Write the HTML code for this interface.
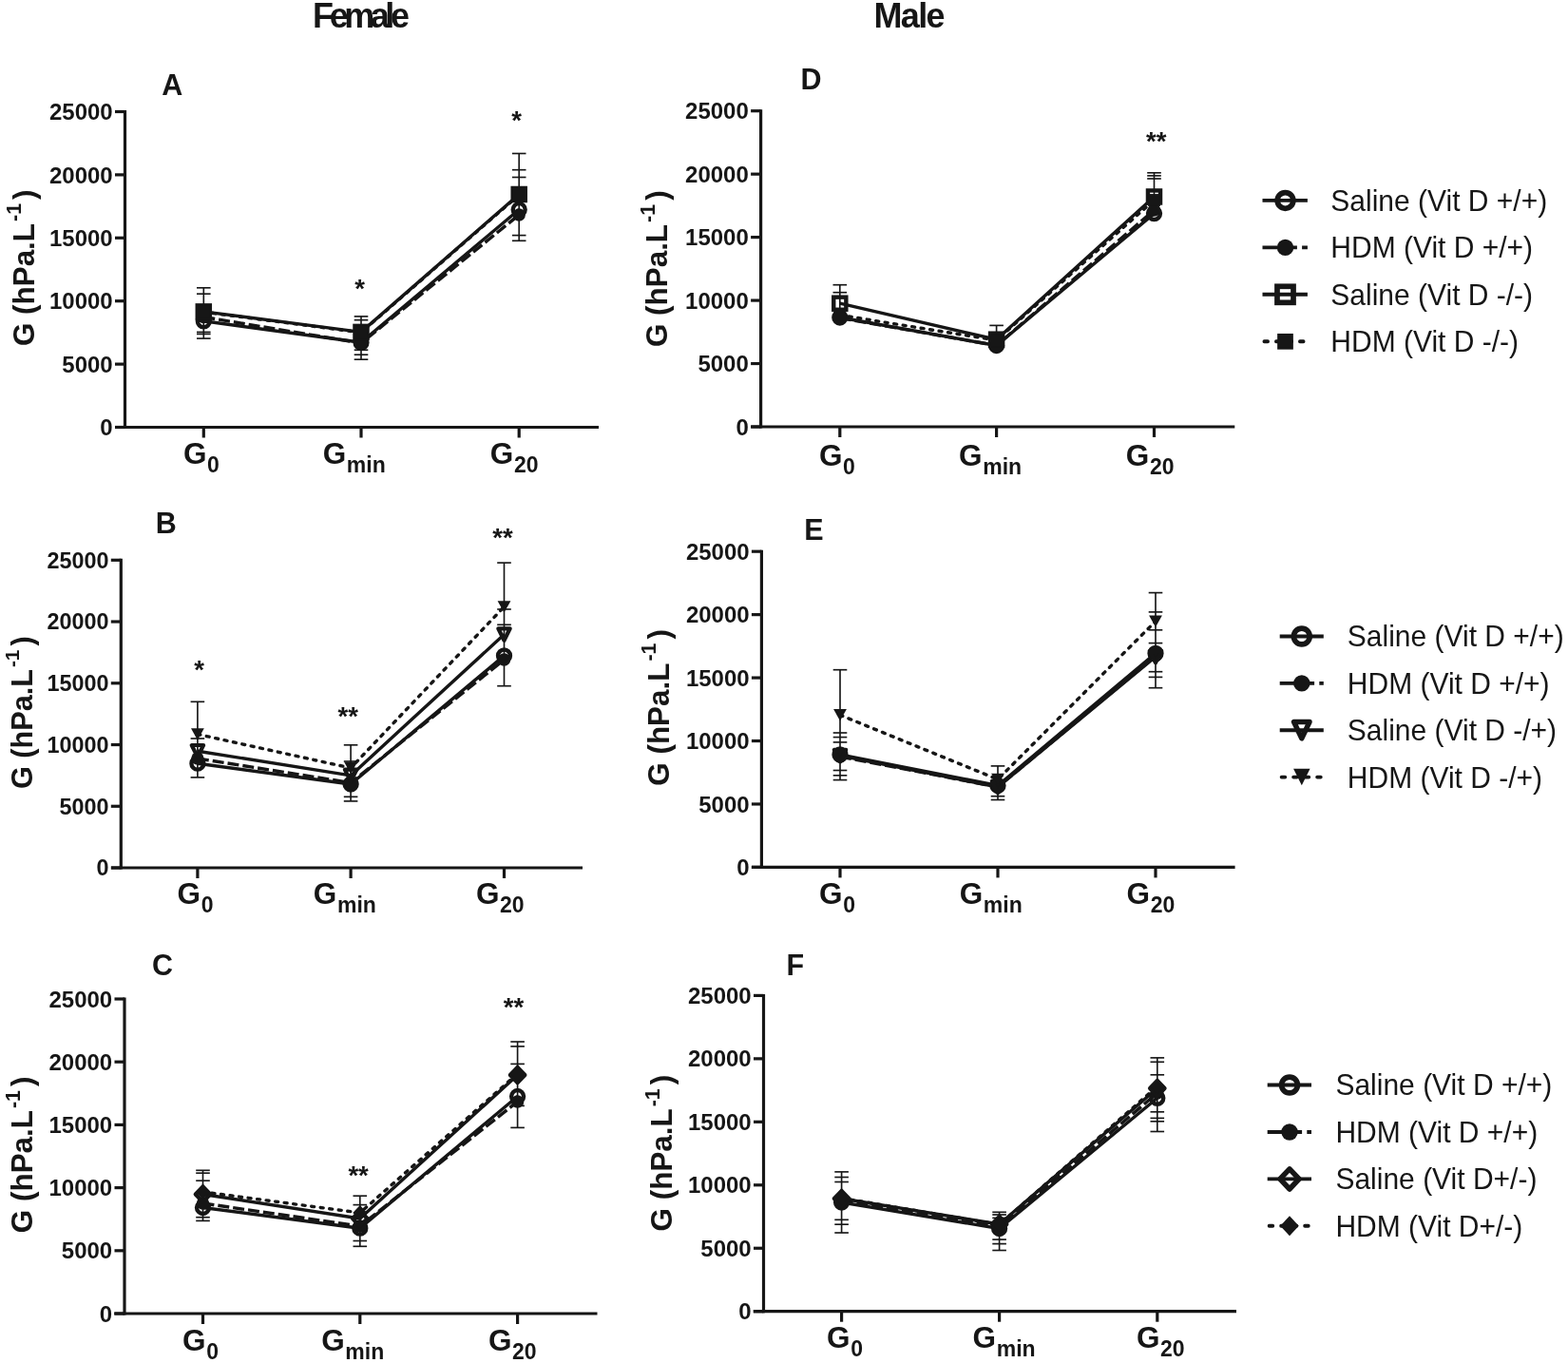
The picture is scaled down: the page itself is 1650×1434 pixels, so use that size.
<!DOCTYPE html>
<html><head><meta charset="utf-8"><title>Figure</title>
<style>html,body{margin:0;padding:0;background:#fff;}svg{display:block;}</style></head><body>
<svg width="1650" height="1434" viewBox="0 0 1650 1434">
<rect width="1650" height="1434" fill="#fff"/>
<text transform="translate(329.1 29.3) scale(1 1.036)" style="font-family:'Liberation Sans',Arial,sans-serif;font-weight:bold;font-size:36px;letter-spacing:-4.44px" fill="#161616">Female</text>
<text transform="translate(919.4 29.3) scale(1 1.036)" style="font-family:'Liberation Sans',Arial,sans-serif;font-weight:bold;font-size:36px;letter-spacing:-1.63px" fill="#161616">Male</text>
<path d="M131.5 116V451" stroke="#161616" stroke-width="3.2" fill="none"/>
<path d="M121 449.5H630" stroke="#161616" stroke-width="3.2" fill="none"/>
<path d="M121 449.5H131.5" stroke="#161616" stroke-width="3.2"/>
<text transform="translate(118.7 458.1) scale(1 1.035)" text-anchor="end" style="font-family:'Liberation Sans',Arial,sans-serif;font-weight:bold;font-size:24px" fill="#161616">0</text>
<path d="M121 383.1H131.5" stroke="#161616" stroke-width="3.2"/>
<text transform="translate(118.7 391.7) scale(1 1.035)" text-anchor="end" style="font-family:'Liberation Sans',Arial,sans-serif;font-weight:bold;font-size:24px" fill="#161616">5000</text>
<path d="M121 316.7H131.5" stroke="#161616" stroke-width="3.2"/>
<text transform="translate(118.7 325.3) scale(1 1.035)" text-anchor="end" style="font-family:'Liberation Sans',Arial,sans-serif;font-weight:bold;font-size:24px" fill="#161616">10000</text>
<path d="M121 250.3H131.5" stroke="#161616" stroke-width="3.2"/>
<text transform="translate(118.7 258.9) scale(1 1.035)" text-anchor="end" style="font-family:'Liberation Sans',Arial,sans-serif;font-weight:bold;font-size:24px" fill="#161616">15000</text>
<path d="M121 183.9H131.5" stroke="#161616" stroke-width="3.2"/>
<text transform="translate(118.7 192.5) scale(1 1.035)" text-anchor="end" style="font-family:'Liberation Sans',Arial,sans-serif;font-weight:bold;font-size:24px" fill="#161616">20000</text>
<path d="M121 117.5H131.5" stroke="#161616" stroke-width="3.2"/>
<text transform="translate(118.7 126.1) scale(1 1.035)" text-anchor="end" style="font-family:'Liberation Sans',Arial,sans-serif;font-weight:bold;font-size:24px" fill="#161616">25000</text>
<path d="M214.3 449.5V460.5" stroke="#161616" stroke-width="3.2"/>
<text x="192.91" y="488" style="font-family:'Liberation Sans',Arial,sans-serif;font-weight:bold;font-size:31.5px" fill="#161616">G</text>
<text x="218.04" y="497" style="font-family:'Liberation Sans',Arial,sans-serif;font-weight:bold;font-size:23px" fill="#161616">0</text>
<path d="M380 449.5V460.5" stroke="#161616" stroke-width="3.2"/>
<text x="339.71" y="488" style="font-family:'Liberation Sans',Arial,sans-serif;font-weight:bold;font-size:31.5px" fill="#161616">G</text>
<text x="364.84" y="497" style="font-family:'Liberation Sans',Arial,sans-serif;font-weight:bold;font-size:23px" fill="#161616">min</text>
<path d="M546.2 449.5V460.5" stroke="#161616" stroke-width="3.2"/>
<text x="515.81" y="488" style="font-family:'Liberation Sans',Arial,sans-serif;font-weight:bold;font-size:31.5px" fill="#161616">G</text>
<text x="540.94" y="497" style="font-family:'Liberation Sans',Arial,sans-serif;font-weight:bold;font-size:23px" fill="#161616">20</text>
<text transform="translate(35.5 281.75) rotate(-90)" text-anchor="middle" style="font-family:'Liberation Sans',Arial,sans-serif;font-weight:bold;font-size:31.4px" fill="#161616">G (hPa.L<tspan style="font-size:21.5px" dx="2" dy="-13.5">-1</tspan><tspan dx="4" dy="13.5">)</tspan></text>
<text x="170.28" y="99.8" style="font-family:'Liberation Sans',Arial,sans-serif;font-weight:bold;font-size:30.5px" fill="#161616">A</text>
<path d="M214.3 302.8V356.1" stroke="#161616" stroke-width="1.65"/>
<path d="M207 302.8H221.6" stroke="#161616" stroke-width="1.65"/>
<path d="M207 309.2H221.6" stroke="#161616" stroke-width="1.65"/>
<path d="M207 349.4H221.6" stroke="#161616" stroke-width="1.65"/>
<path d="M207 351.4H221.6" stroke="#161616" stroke-width="1.65"/>
<path d="M207 356.1H221.6" stroke="#161616" stroke-width="1.65"/>
<path d="M380 332.9V378.2" stroke="#161616" stroke-width="1.65"/>
<path d="M372.7 332.9H387.3" stroke="#161616" stroke-width="1.65"/>
<path d="M372.7 336.7H387.3" stroke="#161616" stroke-width="1.65"/>
<path d="M372.7 368.2H387.3" stroke="#161616" stroke-width="1.65"/>
<path d="M372.7 373.2H387.3" stroke="#161616" stroke-width="1.65"/>
<path d="M372.7 378.2H387.3" stroke="#161616" stroke-width="1.65"/>
<path d="M546.2 161.5V253.3" stroke="#161616" stroke-width="1.65"/>
<path d="M538.9 161.5H553.5" stroke="#161616" stroke-width="1.65"/>
<path d="M538.9 178.7H553.5" stroke="#161616" stroke-width="1.65"/>
<path d="M538.9 186.5H553.5" stroke="#161616" stroke-width="1.65"/>
<path d="M538.9 247.6H553.5" stroke="#161616" stroke-width="1.65"/>
<path d="M538.9 253.3H553.5" stroke="#161616" stroke-width="1.65"/>
<polyline points="214.3,337.8 380,360.3 546.2,220.5" fill="none" stroke="#161616" stroke-width="3.4" stroke-linejoin="round"/>
<polyline points="214.3,327.9 380,349.4 546.2,204.5" fill="none" stroke="#161616" stroke-width="3.4" stroke-linejoin="round"/>
<polyline points="214.3,333.5 380,361 546.2,226" fill="none" stroke="#161616" stroke-width="3.4" stroke-linejoin="round" stroke-dasharray="12 4"/>
<polyline points="214.3,328.3 380,349.8 546.2,205" fill="none" stroke="#161616" stroke-width="3.4" stroke-linejoin="round" stroke-dasharray="3 6.6" stroke-linecap="round"/>
<circle cx="214.3" cy="337.8" r="6.45" fill="none" stroke="#161616" stroke-width="4.4"/>
<circle cx="380" cy="360.3" r="6.45" fill="none" stroke="#161616" stroke-width="4.4"/>
<circle cx="546.2" cy="220.5" r="6.45" fill="none" stroke="#161616" stroke-width="4.4"/>
<circle cx="214.3" cy="333.5" r="6.7" fill="#161616"/>
<circle cx="380" cy="361" r="6.7" fill="#161616"/>
<circle cx="546.2" cy="226" r="6.7" fill="#161616"/>
<rect x="207.75" y="321.35" width="13.1" height="13.1" fill="none" stroke="#161616" stroke-width="4.4"/>
<rect x="373.45" y="342.85" width="13.1" height="13.1" fill="none" stroke="#161616" stroke-width="4.4"/>
<rect x="539.65" y="197.95" width="13.1" height="13.1" fill="none" stroke="#161616" stroke-width="4.4"/>
<rect x="207.88" y="321.88" width="12.85" height="12.85" fill="#161616"/>
<rect x="373.57" y="343.38" width="12.85" height="12.85" fill="#161616"/>
<rect x="539.78" y="198.57" width="12.85" height="12.85" fill="#161616"/>
<text x="378.5" y="312.79" text-anchor="middle" style="font-family:'Liberation Sans',Arial,sans-serif;font-weight:bold;font-size:27.5px" fill="#161616">*</text>
<text x="543.7" y="135.89" text-anchor="middle" style="font-family:'Liberation Sans',Arial,sans-serif;font-weight:bold;font-size:27.5px" fill="#161616">*</text>
<path d="M127.3 587.8V914.5" stroke="#161616" stroke-width="3.2" fill="none"/>
<path d="M117 913H613" stroke="#161616" stroke-width="3.2" fill="none"/>
<path d="M116.8 913H127.3" stroke="#161616" stroke-width="3.2"/>
<text transform="translate(114.5 921.39) scale(1 1.035)" text-anchor="end" style="font-family:'Liberation Sans',Arial,sans-serif;font-weight:bold;font-size:23.42px" fill="#161616">0</text>
<path d="M116.8 848.26H127.3" stroke="#161616" stroke-width="3.2"/>
<text transform="translate(114.5 856.65) scale(1 1.035)" text-anchor="end" style="font-family:'Liberation Sans',Arial,sans-serif;font-weight:bold;font-size:23.42px" fill="#161616">5000</text>
<path d="M116.8 783.52H127.3" stroke="#161616" stroke-width="3.2"/>
<text transform="translate(114.5 791.91) scale(1 1.035)" text-anchor="end" style="font-family:'Liberation Sans',Arial,sans-serif;font-weight:bold;font-size:23.42px" fill="#161616">10000</text>
<path d="M116.8 718.78H127.3" stroke="#161616" stroke-width="3.2"/>
<text transform="translate(114.5 727.17) scale(1 1.035)" text-anchor="end" style="font-family:'Liberation Sans',Arial,sans-serif;font-weight:bold;font-size:23.42px" fill="#161616">15000</text>
<path d="M116.8 654.04H127.3" stroke="#161616" stroke-width="3.2"/>
<text transform="translate(114.5 662.43) scale(1 1.035)" text-anchor="end" style="font-family:'Liberation Sans',Arial,sans-serif;font-weight:bold;font-size:23.42px" fill="#161616">20000</text>
<path d="M116.8 589.3H127.3" stroke="#161616" stroke-width="3.2"/>
<text transform="translate(114.5 597.69) scale(1 1.035)" text-anchor="end" style="font-family:'Liberation Sans',Arial,sans-serif;font-weight:bold;font-size:23.42px" fill="#161616">25000</text>
<path d="M207.9 913V924" stroke="#161616" stroke-width="3.2"/>
<text x="186.51" y="951.2" style="font-family:'Liberation Sans',Arial,sans-serif;font-weight:bold;font-size:31.5px" fill="#161616">G</text>
<text x="211.64" y="960.2" style="font-family:'Liberation Sans',Arial,sans-serif;font-weight:bold;font-size:23px" fill="#161616">0</text>
<path d="M369.1 913V924" stroke="#161616" stroke-width="3.2"/>
<text x="329.81" y="951.2" style="font-family:'Liberation Sans',Arial,sans-serif;font-weight:bold;font-size:31.5px" fill="#161616">G</text>
<text x="354.94" y="960.2" style="font-family:'Liberation Sans',Arial,sans-serif;font-weight:bold;font-size:23px" fill="#161616">min</text>
<path d="M530.5 913V924" stroke="#161616" stroke-width="3.2"/>
<text x="500.91" y="951.2" style="font-family:'Liberation Sans',Arial,sans-serif;font-weight:bold;font-size:31.5px" fill="#161616">G</text>
<text x="526.04" y="960.2" style="font-family:'Liberation Sans',Arial,sans-serif;font-weight:bold;font-size:23px" fill="#161616">20</text>
<text transform="translate(33.5 749.7) rotate(-90)" text-anchor="middle" style="font-family:'Liberation Sans',Arial,sans-serif;font-weight:bold;font-size:30.65px" fill="#161616">G (hPa.L<tspan style="font-size:20.98px" dx="1.95" dy="-13.18">-1</tspan><tspan dx="3.9" dy="13.18">)</tspan></text>
<text x="163.78" y="561" style="font-family:'Liberation Sans',Arial,sans-serif;font-weight:bold;font-size:30.5px" fill="#161616">B</text>
<path d="M207.9 738.3V817.9" stroke="#161616" stroke-width="1.65"/>
<path d="M200.6 738.3H215.2" stroke="#161616" stroke-width="1.65"/>
<path d="M200.6 777H215.2" stroke="#161616" stroke-width="1.65"/>
<path d="M200.6 817.9H215.2" stroke="#161616" stroke-width="1.65"/>
<path d="M369.1 783.8V842.9" stroke="#161616" stroke-width="1.65"/>
<path d="M361.8 783.8H376.4" stroke="#161616" stroke-width="1.65"/>
<path d="M361.8 801H376.4" stroke="#161616" stroke-width="1.65"/>
<path d="M361.8 838.3H376.4" stroke="#161616" stroke-width="1.65"/>
<path d="M361.8 842.9H376.4" stroke="#161616" stroke-width="1.65"/>
<path d="M530.5 592.1V721.7" stroke="#161616" stroke-width="1.65"/>
<path d="M523.2 592.1H537.8" stroke="#161616" stroke-width="1.65"/>
<path d="M523.2 641H537.8" stroke="#161616" stroke-width="1.65"/>
<path d="M523.2 657.3H537.8" stroke="#161616" stroke-width="1.65"/>
<path d="M523.2 721.7H537.8" stroke="#161616" stroke-width="1.65"/>
<polyline points="207.9,803.2 369.1,825 530.5,689.9" fill="none" stroke="#161616" stroke-width="3.4" stroke-linejoin="round"/>
<polyline points="207.9,790.2 369.1,815.9 530.5,667.5" fill="none" stroke="#161616" stroke-width="3.4" stroke-linejoin="round"/>
<polyline points="207.9,798 369.1,823.5 530.5,694" fill="none" stroke="#161616" stroke-width="3.4" stroke-linejoin="round" stroke-dasharray="12 4"/>
<polyline points="207.9,772.5 369.1,808 530.5,638.4" fill="none" stroke="#161616" stroke-width="3.4" stroke-linejoin="round" stroke-dasharray="3 6.6" stroke-linecap="round"/>
<circle cx="207.9" cy="803.2" r="6.45" fill="none" stroke="#161616" stroke-width="4.4"/>
<circle cx="369.1" cy="825" r="6.45" fill="none" stroke="#161616" stroke-width="4.4"/>
<circle cx="530.5" cy="689.9" r="6.45" fill="none" stroke="#161616" stroke-width="4.4"/>
<circle cx="207.9" cy="798" r="6.7" fill="#161616"/>
<circle cx="369.1" cy="823.5" r="6.7" fill="#161616"/>
<circle cx="530.5" cy="694" r="6.7" fill="#161616"/>
<polygon points="201.71,784.01 214.09,784.01 207.9,796.39" fill="none" stroke="#161616" stroke-width="4.2" stroke-linejoin="round"/>
<polygon points="362.91,809.71 375.29,809.71 369.1,822.09" fill="none" stroke="#161616" stroke-width="4.2" stroke-linejoin="round"/>
<polygon points="524.31,661.31 536.69,661.31 530.5,673.69" fill="none" stroke="#161616" stroke-width="4.2" stroke-linejoin="round"/>
<polygon points="201,766.3 214.8,766.3 207.9,778.7" fill="#161616"/>
<polygon points="362.2,801.8 376,801.8 369.1,814.2" fill="#161616"/>
<polygon points="523.6,632.2 537.4,632.2 530.5,644.6" fill="#161616"/>
<text x="209.7" y="714.39" text-anchor="middle" style="font-family:'Liberation Sans',Arial,sans-serif;font-weight:bold;font-size:27.5px" fill="#161616">*</text>
<text x="366.2" y="762.89" text-anchor="middle" style="font-family:'Liberation Sans',Arial,sans-serif;font-weight:bold;font-size:27.5px" fill="#161616">**</text>
<text x="528.9" y="575.49" text-anchor="middle" style="font-family:'Liberation Sans',Arial,sans-serif;font-weight:bold;font-size:27.5px" fill="#161616">**</text>
<path d="M131 1049.5V1383.5" stroke="#161616" stroke-width="3.2" fill="none"/>
<path d="M120.2 1382H628.5" stroke="#161616" stroke-width="3.2" fill="none"/>
<path d="M120.5 1382H131" stroke="#161616" stroke-width="3.2"/>
<text transform="translate(118.2 1390.6) scale(1 1.035)" text-anchor="end" style="font-family:'Liberation Sans',Arial,sans-serif;font-weight:bold;font-size:24px" fill="#161616">0</text>
<path d="M120.5 1315.8H131" stroke="#161616" stroke-width="3.2"/>
<text transform="translate(118.2 1324.4) scale(1 1.035)" text-anchor="end" style="font-family:'Liberation Sans',Arial,sans-serif;font-weight:bold;font-size:24px" fill="#161616">5000</text>
<path d="M120.5 1249.6H131" stroke="#161616" stroke-width="3.2"/>
<text transform="translate(118.2 1258.2) scale(1 1.035)" text-anchor="end" style="font-family:'Liberation Sans',Arial,sans-serif;font-weight:bold;font-size:24px" fill="#161616">10000</text>
<path d="M120.5 1183.4H131" stroke="#161616" stroke-width="3.2"/>
<text transform="translate(118.2 1192) scale(1 1.035)" text-anchor="end" style="font-family:'Liberation Sans',Arial,sans-serif;font-weight:bold;font-size:24px" fill="#161616">15000</text>
<path d="M120.5 1117.2H131" stroke="#161616" stroke-width="3.2"/>
<text transform="translate(118.2 1125.8) scale(1 1.035)" text-anchor="end" style="font-family:'Liberation Sans',Arial,sans-serif;font-weight:bold;font-size:24px" fill="#161616">20000</text>
<path d="M120.5 1051H131" stroke="#161616" stroke-width="3.2"/>
<text transform="translate(118.2 1059.6) scale(1 1.035)" text-anchor="end" style="font-family:'Liberation Sans',Arial,sans-serif;font-weight:bold;font-size:24px" fill="#161616">25000</text>
<path d="M213.5 1382V1393" stroke="#161616" stroke-width="3.2"/>
<text x="192.01" y="1421.1" style="font-family:'Liberation Sans',Arial,sans-serif;font-weight:bold;font-size:31.5px" fill="#161616">G</text>
<text x="217.14" y="1430.1" style="font-family:'Liberation Sans',Arial,sans-serif;font-weight:bold;font-size:23px" fill="#161616">0</text>
<path d="M378.8 1382V1393" stroke="#161616" stroke-width="3.2"/>
<text x="338.21" y="1421.1" style="font-family:'Liberation Sans',Arial,sans-serif;font-weight:bold;font-size:31.5px" fill="#161616">G</text>
<text x="363.34" y="1430.1" style="font-family:'Liberation Sans',Arial,sans-serif;font-weight:bold;font-size:23px" fill="#161616">min</text>
<path d="M544.6 1382V1393" stroke="#161616" stroke-width="3.2"/>
<text x="513.91" y="1421.1" style="font-family:'Liberation Sans',Arial,sans-serif;font-weight:bold;font-size:31.5px" fill="#161616">G</text>
<text x="539.04" y="1430.1" style="font-family:'Liberation Sans',Arial,sans-serif;font-weight:bold;font-size:23px" fill="#161616">20</text>
<text transform="translate(34.4 1214.8) rotate(-90)" text-anchor="middle" style="font-family:'Liberation Sans',Arial,sans-serif;font-weight:bold;font-size:31.4px" fill="#161616">G (hPa.L<tspan style="font-size:21.5px" dx="2" dy="-13.5">-1</tspan><tspan dx="4" dy="13.5">)</tspan></text>
<text x="159.88" y="1025.9" style="font-family:'Liberation Sans',Arial,sans-serif;font-weight:bold;font-size:30.5px" fill="#161616">C</text>
<path d="M213.5 1231.3V1284.4" stroke="#161616" stroke-width="1.65"/>
<path d="M206.2 1231.3H220.8" stroke="#161616" stroke-width="1.65"/>
<path d="M206.2 1234.2H220.8" stroke="#161616" stroke-width="1.65"/>
<path d="M206.2 1242.2H220.8" stroke="#161616" stroke-width="1.65"/>
<path d="M206.2 1280.7H220.8" stroke="#161616" stroke-width="1.65"/>
<path d="M206.2 1284.4H220.8" stroke="#161616" stroke-width="1.65"/>
<path d="M378.8 1258.2V1311.3" stroke="#161616" stroke-width="1.65"/>
<path d="M371.5 1258.2H386.1" stroke="#161616" stroke-width="1.65"/>
<path d="M371.5 1267.6H386.1" stroke="#161616" stroke-width="1.65"/>
<path d="M371.5 1305.5H386.1" stroke="#161616" stroke-width="1.65"/>
<path d="M371.5 1311.3H386.1" stroke="#161616" stroke-width="1.65"/>
<path d="M544.6 1096V1186.4" stroke="#161616" stroke-width="1.65"/>
<path d="M537.3 1096H551.9" stroke="#161616" stroke-width="1.65"/>
<path d="M537.3 1100.9H551.9" stroke="#161616" stroke-width="1.65"/>
<path d="M537.3 1119.4H551.9" stroke="#161616" stroke-width="1.65"/>
<path d="M537.3 1163.4H551.9" stroke="#161616" stroke-width="1.65"/>
<path d="M537.3 1186.4H551.9" stroke="#161616" stroke-width="1.65"/>
<polyline points="213.5,1270.5 378.8,1292.2 544.6,1153.5" fill="none" stroke="#161616" stroke-width="3.4" stroke-linejoin="round"/>
<polyline points="213.5,1256.5 378.8,1282 544.6,1131" fill="none" stroke="#161616" stroke-width="3.4" stroke-linejoin="round"/>
<polyline points="213.5,1266 378.8,1290 544.6,1159" fill="none" stroke="#161616" stroke-width="3.4" stroke-linejoin="round" stroke-dasharray="12 4"/>
<polyline points="213.5,1254 378.8,1276 544.6,1129.7" fill="none" stroke="#161616" stroke-width="3.4" stroke-linejoin="round" stroke-dasharray="3 6.6" stroke-linecap="round"/>
<circle cx="213.5" cy="1270.5" r="6.45" fill="none" stroke="#161616" stroke-width="4.4"/>
<circle cx="378.8" cy="1292.2" r="6.45" fill="none" stroke="#161616" stroke-width="4.4"/>
<circle cx="544.6" cy="1153.5" r="6.45" fill="none" stroke="#161616" stroke-width="4.4"/>
<circle cx="213.5" cy="1266" r="6.7" fill="#161616"/>
<circle cx="378.8" cy="1290" r="6.7" fill="#161616"/>
<circle cx="544.6" cy="1159" r="6.7" fill="#161616"/>
<polygon points="213.5,1248.38 221.22,1256.5 213.5,1264.62 205.78,1256.5" fill="none" stroke="#161616" stroke-width="4.3" stroke-linejoin="round"/>
<polygon points="378.8,1273.88 386.52,1282 378.8,1290.12 371.08,1282" fill="none" stroke="#161616" stroke-width="4.3" stroke-linejoin="round"/>
<polygon points="544.6,1122.88 552.32,1131 544.6,1139.12 536.88,1131" fill="none" stroke="#161616" stroke-width="4.3" stroke-linejoin="round"/>
<polygon points="213.5,1245.9 221,1254 213.5,1262.1 206,1254" fill="#161616"/>
<polygon points="378.8,1267.9 386.3,1276 378.8,1284.1 371.3,1276" fill="#161616"/>
<polygon points="544.6,1121.6 552.1,1129.7 544.6,1137.8 537.1,1129.7" fill="#161616"/>
<text x="377.1" y="1245.69" text-anchor="middle" style="font-family:'Liberation Sans',Arial,sans-serif;font-weight:bold;font-size:27.5px" fill="#161616">**</text>
<text x="540.4" y="1068.59" text-anchor="middle" style="font-family:'Liberation Sans',Arial,sans-serif;font-weight:bold;font-size:27.5px" fill="#161616">**</text>
<path d="M800.6 115.2V450.5" stroke="#161616" stroke-width="3.2" fill="none"/>
<path d="M790.3 449H1299.3" stroke="#161616" stroke-width="3.2" fill="none"/>
<path d="M790.1 449H800.6" stroke="#161616" stroke-width="3.2"/>
<text transform="translate(787.8 457.6) scale(1 1.035)" text-anchor="end" style="font-family:'Liberation Sans',Arial,sans-serif;font-weight:bold;font-size:24px" fill="#161616">0</text>
<path d="M790.1 382.54H800.6" stroke="#161616" stroke-width="3.2"/>
<text transform="translate(787.8 391.14) scale(1 1.035)" text-anchor="end" style="font-family:'Liberation Sans',Arial,sans-serif;font-weight:bold;font-size:24px" fill="#161616">5000</text>
<path d="M790.1 316.08H800.6" stroke="#161616" stroke-width="3.2"/>
<text transform="translate(787.8 324.68) scale(1 1.035)" text-anchor="end" style="font-family:'Liberation Sans',Arial,sans-serif;font-weight:bold;font-size:24px" fill="#161616">10000</text>
<path d="M790.1 249.62H800.6" stroke="#161616" stroke-width="3.2"/>
<text transform="translate(787.8 258.22) scale(1 1.035)" text-anchor="end" style="font-family:'Liberation Sans',Arial,sans-serif;font-weight:bold;font-size:24px" fill="#161616">15000</text>
<path d="M790.1 183.16H800.6" stroke="#161616" stroke-width="3.2"/>
<text transform="translate(787.8 191.76) scale(1 1.035)" text-anchor="end" style="font-family:'Liberation Sans',Arial,sans-serif;font-weight:bold;font-size:24px" fill="#161616">20000</text>
<path d="M790.1 116.7H800.6" stroke="#161616" stroke-width="3.2"/>
<text transform="translate(787.8 125.3) scale(1 1.035)" text-anchor="end" style="font-family:'Liberation Sans',Arial,sans-serif;font-weight:bold;font-size:24px" fill="#161616">25000</text>
<path d="M883.8 449V460" stroke="#161616" stroke-width="3.2"/>
<text x="861.91" y="489.5" style="font-family:'Liberation Sans',Arial,sans-serif;font-weight:bold;font-size:31.5px" fill="#161616">G</text>
<text x="887.04" y="498.5" style="font-family:'Liberation Sans',Arial,sans-serif;font-weight:bold;font-size:23px" fill="#161616">0</text>
<path d="M1048.6 449V460" stroke="#161616" stroke-width="3.2"/>
<text x="1009.11" y="489.5" style="font-family:'Liberation Sans',Arial,sans-serif;font-weight:bold;font-size:31.5px" fill="#161616">G</text>
<text x="1034.24" y="498.5" style="font-family:'Liberation Sans',Arial,sans-serif;font-weight:bold;font-size:23px" fill="#161616">min</text>
<path d="M1214.5 449V460" stroke="#161616" stroke-width="3.2"/>
<text x="1184.81" y="489.5" style="font-family:'Liberation Sans',Arial,sans-serif;font-weight:bold;font-size:31.5px" fill="#161616">G</text>
<text x="1209.94" y="498.5" style="font-family:'Liberation Sans',Arial,sans-serif;font-weight:bold;font-size:23px" fill="#161616">20</text>
<text transform="translate(702.3 282.7) rotate(-90)" text-anchor="middle" style="font-family:'Liberation Sans',Arial,sans-serif;font-weight:bold;font-size:31.4px" fill="#161616">G (hPa.L<tspan style="font-size:21.5px" dx="2" dy="-13.5">-1</tspan><tspan dx="4" dy="13.5">)</tspan></text>
<text x="842.38" y="94.2" style="font-family:'Liberation Sans',Arial,sans-serif;font-weight:bold;font-size:30.5px" fill="#161616">D</text>
<path d="M883.8 299.7V334.5" stroke="#161616" stroke-width="1.65"/>
<path d="M876.5 299.7H891.1" stroke="#161616" stroke-width="1.65"/>
<path d="M876.5 307.7H891.1" stroke="#161616" stroke-width="1.65"/>
<path d="M1048.6 342.4V363.5" stroke="#161616" stroke-width="1.65"/>
<path d="M1041.3 342.4H1055.9" stroke="#161616" stroke-width="1.65"/>
<path d="M1214.5 181.8V224.6" stroke="#161616" stroke-width="1.65"/>
<path d="M1207.2 181.8H1221.8" stroke="#161616" stroke-width="1.65"/>
<path d="M1207.2 184.9H1221.8" stroke="#161616" stroke-width="1.65"/>
<path d="M1207.2 188H1221.8" stroke="#161616" stroke-width="1.65"/>
<polyline points="883.8,334 1048.6,363.5 1214.5,224.6" fill="none" stroke="#161616" stroke-width="3.4" stroke-linejoin="round"/>
<polyline points="883.8,319.2 1048.6,357.2 1214.5,207" fill="none" stroke="#161616" stroke-width="3.4" stroke-linejoin="round"/>
<polyline points="883.8,334.5 1048.6,363.5 1214.5,221" fill="none" stroke="#161616" stroke-width="3.4" stroke-linejoin="round" stroke-dasharray="12 4"/>
<polyline points="883.8,331.5 1048.6,358 1214.5,210.5" fill="none" stroke="#161616" stroke-width="3.4" stroke-linejoin="round" stroke-dasharray="3 6.6" stroke-linecap="round"/>
<circle cx="883.8" cy="334" r="6.45" fill="none" stroke="#161616" stroke-width="4.4"/>
<circle cx="1048.6" cy="363.5" r="6.45" fill="none" stroke="#161616" stroke-width="4.4"/>
<circle cx="1214.5" cy="224.6" r="6.45" fill="none" stroke="#161616" stroke-width="4.4"/>
<circle cx="883.8" cy="334.5" r="6.7" fill="#161616"/>
<circle cx="1048.6" cy="363.5" r="6.7" fill="#161616"/>
<circle cx="1214.5" cy="221" r="6.7" fill="#161616"/>
<rect x="877.25" y="312.65" width="13.1" height="13.1" fill="none" stroke="#161616" stroke-width="4.4"/>
<rect x="1042.05" y="350.65" width="13.1" height="13.1" fill="none" stroke="#161616" stroke-width="4.4"/>
<rect x="1207.95" y="200.45" width="13.1" height="13.1" fill="none" stroke="#161616" stroke-width="4.4"/>
<rect x="877.38" y="325.07" width="12.85" height="12.85" fill="#161616"/>
<rect x="1042.17" y="351.57" width="12.85" height="12.85" fill="#161616"/>
<rect x="1208.08" y="204.07" width="12.85" height="12.85" fill="#161616"/>
<text x="1216.8" y="157.79" text-anchor="middle" style="font-family:'Liberation Sans',Arial,sans-serif;font-weight:bold;font-size:27.5px" fill="#161616">**</text>
<path d="M801.4 578.7V913.9" stroke="#161616" stroke-width="3.2" fill="none"/>
<path d="M790.9 912.4H1299.6" stroke="#161616" stroke-width="3.2" fill="none"/>
<path d="M790.9 912.4H801.4" stroke="#161616" stroke-width="3.2"/>
<text transform="translate(788.6 921) scale(1 1.035)" text-anchor="end" style="font-family:'Liberation Sans',Arial,sans-serif;font-weight:bold;font-size:24px" fill="#161616">0</text>
<path d="M790.9 845.96H801.4" stroke="#161616" stroke-width="3.2"/>
<text transform="translate(788.6 854.56) scale(1 1.035)" text-anchor="end" style="font-family:'Liberation Sans',Arial,sans-serif;font-weight:bold;font-size:24px" fill="#161616">5000</text>
<path d="M790.9 779.52H801.4" stroke="#161616" stroke-width="3.2"/>
<text transform="translate(788.6 788.12) scale(1 1.035)" text-anchor="end" style="font-family:'Liberation Sans',Arial,sans-serif;font-weight:bold;font-size:24px" fill="#161616">10000</text>
<path d="M790.9 713.08H801.4" stroke="#161616" stroke-width="3.2"/>
<text transform="translate(788.6 721.68) scale(1 1.035)" text-anchor="end" style="font-family:'Liberation Sans',Arial,sans-serif;font-weight:bold;font-size:24px" fill="#161616">15000</text>
<path d="M790.9 646.64H801.4" stroke="#161616" stroke-width="3.2"/>
<text transform="translate(788.6 655.24) scale(1 1.035)" text-anchor="end" style="font-family:'Liberation Sans',Arial,sans-serif;font-weight:bold;font-size:24px" fill="#161616">20000</text>
<path d="M790.9 580.2H801.4" stroke="#161616" stroke-width="3.2"/>
<text transform="translate(788.6 588.8) scale(1 1.035)" text-anchor="end" style="font-family:'Liberation Sans',Arial,sans-serif;font-weight:bold;font-size:24px" fill="#161616">25000</text>
<path d="M884 912.4V923.4" stroke="#161616" stroke-width="3.2"/>
<text x="862.11" y="950.6" style="font-family:'Liberation Sans',Arial,sans-serif;font-weight:bold;font-size:31.5px" fill="#161616">G</text>
<text x="887.24" y="959.6" style="font-family:'Liberation Sans',Arial,sans-serif;font-weight:bold;font-size:23px" fill="#161616">0</text>
<path d="M1050 912.4V923.4" stroke="#161616" stroke-width="3.2"/>
<text x="1009.71" y="950.6" style="font-family:'Liberation Sans',Arial,sans-serif;font-weight:bold;font-size:31.5px" fill="#161616">G</text>
<text x="1034.84" y="959.6" style="font-family:'Liberation Sans',Arial,sans-serif;font-weight:bold;font-size:23px" fill="#161616">min</text>
<path d="M1216 912.4V923.4" stroke="#161616" stroke-width="3.2"/>
<text x="1185.61" y="950.6" style="font-family:'Liberation Sans',Arial,sans-serif;font-weight:bold;font-size:31.5px" fill="#161616">G</text>
<text x="1210.74" y="959.6" style="font-family:'Liberation Sans',Arial,sans-serif;font-weight:bold;font-size:23px" fill="#161616">20</text>
<text transform="translate(703.9 744.35) rotate(-90)" text-anchor="middle" style="font-family:'Liberation Sans',Arial,sans-serif;font-weight:bold;font-size:31.4px" fill="#161616">G (hPa.L<tspan style="font-size:21.5px" dx="2" dy="-13.5">-1</tspan><tspan dx="4" dy="13.5">)</tspan></text>
<text x="846.27" y="567.9" style="font-family:'Liberation Sans',Arial,sans-serif;font-weight:bold;font-size:30.5px" fill="#161616">E</text>
<path d="M884 704.7V820.6" stroke="#161616" stroke-width="1.65"/>
<path d="M876.7 704.7H891.3" stroke="#161616" stroke-width="1.65"/>
<path d="M876.7 771H891.3" stroke="#161616" stroke-width="1.65"/>
<path d="M876.7 775.6H891.3" stroke="#161616" stroke-width="1.65"/>
<path d="M876.7 780.9H891.3" stroke="#161616" stroke-width="1.65"/>
<path d="M876.7 810.5H891.3" stroke="#161616" stroke-width="1.65"/>
<path d="M876.7 815.8H891.3" stroke="#161616" stroke-width="1.65"/>
<path d="M876.7 820.6H891.3" stroke="#161616" stroke-width="1.65"/>
<path d="M1050 805.9V841.5" stroke="#161616" stroke-width="1.65"/>
<path d="M1042.7 805.9H1057.3" stroke="#161616" stroke-width="1.65"/>
<path d="M1042.7 837.7H1057.3" stroke="#161616" stroke-width="1.65"/>
<path d="M1042.7 841.5H1057.3" stroke="#161616" stroke-width="1.65"/>
<path d="M1216 623.6V723.7" stroke="#161616" stroke-width="1.65"/>
<path d="M1208.7 623.6H1223.3" stroke="#161616" stroke-width="1.65"/>
<path d="M1208.7 643.9H1223.3" stroke="#161616" stroke-width="1.65"/>
<path d="M1208.7 662.8H1223.3" stroke="#161616" stroke-width="1.65"/>
<path d="M1208.7 676.6H1223.3" stroke="#161616" stroke-width="1.65"/>
<path d="M1208.7 706.7H1223.3" stroke="#161616" stroke-width="1.65"/>
<path d="M1208.7 712.4H1223.3" stroke="#161616" stroke-width="1.65"/>
<path d="M1208.7 723.7H1223.3" stroke="#161616" stroke-width="1.65"/>
<polyline points="884,794 1050,826.5 1216,687.3" fill="none" stroke="#161616" stroke-width="3.4" stroke-linejoin="round"/>
<polyline points="884,795 1050,828 1216,691" fill="none" stroke="#161616" stroke-width="3.4" stroke-linejoin="round"/>
<polyline points="884,796 1050,828 1216,690" fill="none" stroke="#161616" stroke-width="3.4" stroke-linejoin="round" stroke-dasharray="12 4"/>
<polyline points="884,752.3 1050,820 1216,653.6" fill="none" stroke="#161616" stroke-width="3.4" stroke-linejoin="round" stroke-dasharray="3 6.6" stroke-linecap="round"/>
<circle cx="884" cy="794" r="6.45" fill="none" stroke="#161616" stroke-width="4.4"/>
<circle cx="1050" cy="826.5" r="6.45" fill="none" stroke="#161616" stroke-width="4.4"/>
<circle cx="1216" cy="687.3" r="6.45" fill="none" stroke="#161616" stroke-width="4.4"/>
<circle cx="884" cy="796" r="6.7" fill="#161616"/>
<circle cx="1050" cy="828" r="6.7" fill="#161616"/>
<circle cx="1216" cy="690" r="6.7" fill="#161616"/>
<polygon points="877.81,788.81 890.19,788.81 884,801.19" fill="none" stroke="#161616" stroke-width="4.2" stroke-linejoin="round"/>
<polygon points="1043.81,821.81 1056.19,821.81 1050,834.19" fill="none" stroke="#161616" stroke-width="4.2" stroke-linejoin="round"/>
<polygon points="1209.81,684.81 1222.19,684.81 1216,697.19" fill="none" stroke="#161616" stroke-width="4.2" stroke-linejoin="round"/>
<polygon points="877.1,746.1 890.9,746.1 884,758.5" fill="#161616"/>
<polygon points="1043.1,813.8 1056.9,813.8 1050,826.2" fill="#161616"/>
<polygon points="1209.1,647.4 1222.9,647.4 1216,659.8" fill="#161616"/>
<path d="M803.5 1045.9V1381.2" stroke="#161616" stroke-width="3.2" fill="none"/>
<path d="M792.7 1379.7H1301" stroke="#161616" stroke-width="3.2" fill="none"/>
<path d="M793 1379.7H803.5" stroke="#161616" stroke-width="3.2"/>
<text transform="translate(790.7 1388.3) scale(1 1.035)" text-anchor="end" style="font-family:'Liberation Sans',Arial,sans-serif;font-weight:bold;font-size:24px" fill="#161616">0</text>
<path d="M793 1313.24H803.5" stroke="#161616" stroke-width="3.2"/>
<text transform="translate(790.7 1321.84) scale(1 1.035)" text-anchor="end" style="font-family:'Liberation Sans',Arial,sans-serif;font-weight:bold;font-size:24px" fill="#161616">5000</text>
<path d="M793 1246.78H803.5" stroke="#161616" stroke-width="3.2"/>
<text transform="translate(790.7 1255.38) scale(1 1.035)" text-anchor="end" style="font-family:'Liberation Sans',Arial,sans-serif;font-weight:bold;font-size:24px" fill="#161616">10000</text>
<path d="M793 1180.32H803.5" stroke="#161616" stroke-width="3.2"/>
<text transform="translate(790.7 1188.92) scale(1 1.035)" text-anchor="end" style="font-family:'Liberation Sans',Arial,sans-serif;font-weight:bold;font-size:24px" fill="#161616">15000</text>
<path d="M793 1113.86H803.5" stroke="#161616" stroke-width="3.2"/>
<text transform="translate(790.7 1122.46) scale(1 1.035)" text-anchor="end" style="font-family:'Liberation Sans',Arial,sans-serif;font-weight:bold;font-size:24px" fill="#161616">20000</text>
<path d="M793 1047.4H803.5" stroke="#161616" stroke-width="3.2"/>
<text transform="translate(790.7 1056) scale(1 1.035)" text-anchor="end" style="font-family:'Liberation Sans',Arial,sans-serif;font-weight:bold;font-size:24px" fill="#161616">25000</text>
<path d="M885.6 1379.7V1390.7" stroke="#161616" stroke-width="3.2"/>
<text x="870.11" y="1418.2" style="font-family:'Liberation Sans',Arial,sans-serif;font-weight:bold;font-size:31.5px" fill="#161616">G</text>
<text x="895.24" y="1427.2" style="font-family:'Liberation Sans',Arial,sans-serif;font-weight:bold;font-size:23px" fill="#161616">0</text>
<path d="M1051.6 1379.7V1390.7" stroke="#161616" stroke-width="3.2"/>
<text x="1023.61" y="1418.2" style="font-family:'Liberation Sans',Arial,sans-serif;font-weight:bold;font-size:31.5px" fill="#161616">G</text>
<text x="1048.74" y="1427.2" style="font-family:'Liberation Sans',Arial,sans-serif;font-weight:bold;font-size:23px" fill="#161616">min</text>
<path d="M1217.8 1379.7V1390.7" stroke="#161616" stroke-width="3.2"/>
<text x="1195.91" y="1418.2" style="font-family:'Liberation Sans',Arial,sans-serif;font-weight:bold;font-size:31.5px" fill="#161616">G</text>
<text x="1221.04" y="1427.2" style="font-family:'Liberation Sans',Arial,sans-serif;font-weight:bold;font-size:23px" fill="#161616">20</text>
<text transform="translate(707 1213.05) rotate(-90)" text-anchor="middle" style="font-family:'Liberation Sans',Arial,sans-serif;font-weight:bold;font-size:31.4px" fill="#161616">G (hPa.L<tspan style="font-size:21.5px" dx="2" dy="-13.5">-1</tspan><tspan dx="4" dy="13.5">)</tspan></text>
<text x="827.48" y="1025.8" style="font-family:'Liberation Sans',Arial,sans-serif;font-weight:bold;font-size:30.5px" fill="#161616">F</text>
<path d="M885.6 1232.9V1297" stroke="#161616" stroke-width="1.65"/>
<path d="M878.3 1232.9H892.9" stroke="#161616" stroke-width="1.65"/>
<path d="M878.3 1238.5H892.9" stroke="#161616" stroke-width="1.65"/>
<path d="M878.3 1243.5H892.9" stroke="#161616" stroke-width="1.65"/>
<path d="M878.3 1283.3H892.9" stroke="#161616" stroke-width="1.65"/>
<path d="M878.3 1288.2H892.9" stroke="#161616" stroke-width="1.65"/>
<path d="M878.3 1297H892.9" stroke="#161616" stroke-width="1.65"/>
<path d="M1051.6 1275.3V1315.5" stroke="#161616" stroke-width="1.65"/>
<path d="M1044.3 1275.3H1058.9" stroke="#161616" stroke-width="1.65"/>
<path d="M1044.3 1278H1058.9" stroke="#161616" stroke-width="1.65"/>
<path d="M1044.3 1281.4H1058.9" stroke="#161616" stroke-width="1.65"/>
<path d="M1044.3 1304.1H1058.9" stroke="#161616" stroke-width="1.65"/>
<path d="M1044.3 1308.6H1058.9" stroke="#161616" stroke-width="1.65"/>
<path d="M1044.3 1315.5H1058.9" stroke="#161616" stroke-width="1.65"/>
<path d="M1217.8 1112.9V1190.5" stroke="#161616" stroke-width="1.65"/>
<path d="M1210.5 1112.9H1225.1" stroke="#161616" stroke-width="1.65"/>
<path d="M1210.5 1117.3H1225.1" stroke="#161616" stroke-width="1.65"/>
<path d="M1210.5 1130.8H1225.1" stroke="#161616" stroke-width="1.65"/>
<path d="M1210.5 1169.8H1225.1" stroke="#161616" stroke-width="1.65"/>
<path d="M1210.5 1176.4H1225.1" stroke="#161616" stroke-width="1.65"/>
<path d="M1210.5 1179.8H1225.1" stroke="#161616" stroke-width="1.65"/>
<path d="M1210.5 1190.5H1225.1" stroke="#161616" stroke-width="1.65"/>
<polyline points="885.6,1265 1051.6,1292.5 1217.8,1155.3" fill="none" stroke="#161616" stroke-width="3.4" stroke-linejoin="round"/>
<polyline points="885.6,1261 1051.6,1288 1217.8,1145" fill="none" stroke="#161616" stroke-width="3.4" stroke-linejoin="round"/>
<polyline points="885.6,1263.5 1051.6,1291 1217.8,1150" fill="none" stroke="#161616" stroke-width="3.4" stroke-linejoin="round" stroke-dasharray="12 4"/>
<polyline points="885.6,1260.5 1051.6,1288.5 1217.8,1143" fill="none" stroke="#161616" stroke-width="3.4" stroke-linejoin="round" stroke-dasharray="3 6.6" stroke-linecap="round"/>
<circle cx="885.6" cy="1265" r="6.45" fill="none" stroke="#161616" stroke-width="4.4"/>
<circle cx="1051.6" cy="1292.5" r="6.45" fill="none" stroke="#161616" stroke-width="4.4"/>
<circle cx="1217.8" cy="1155.3" r="6.45" fill="none" stroke="#161616" stroke-width="4.4"/>
<circle cx="885.6" cy="1263.5" r="6.7" fill="#161616"/>
<circle cx="1051.6" cy="1291" r="6.7" fill="#161616"/>
<circle cx="1217.8" cy="1150" r="6.7" fill="#161616"/>
<polygon points="885.6,1252.88 893.32,1261 885.6,1269.12 877.88,1261" fill="none" stroke="#161616" stroke-width="4.3" stroke-linejoin="round"/>
<polygon points="1051.6,1279.88 1059.32,1288 1051.6,1296.12 1043.88,1288" fill="none" stroke="#161616" stroke-width="4.3" stroke-linejoin="round"/>
<polygon points="1217.8,1136.88 1225.52,1145 1217.8,1153.12 1210.08,1145" fill="none" stroke="#161616" stroke-width="4.3" stroke-linejoin="round"/>
<polygon points="885.6,1252.4 893.1,1260.5 885.6,1268.6 878.1,1260.5" fill="#161616"/>
<polygon points="1051.6,1280.4 1059.1,1288.5 1051.6,1296.6 1044.1,1288.5" fill="#161616"/>
<polygon points="1217.8,1134.9 1225.3,1143 1217.8,1151.1 1210.3,1143" fill="#161616"/>
<path d="M1328.5 210.9H1375.9" stroke="#161616" stroke-width="3.9"/>
<circle cx="1352.5" cy="210.9" r="8.38" fill="none" stroke="#161616" stroke-width="5.72"/>
<text transform="translate(1400.34 221.8) scale(1 1.04)" style="font-family:'Liberation Sans',Arial,sans-serif;font-weight:normal;font-size:30px" fill="#161616">Saline (Vit D +/+)</text>
<path d="M1328.5 260.4H1375.9" stroke="#161616" stroke-width="3.9" stroke-dasharray="15.6 5.2"/>
<circle cx="1352.5" cy="260.4" r="8.71" fill="#161616"/>
<text transform="translate(1400.34 271.3) scale(1 1.04)" style="font-family:'Liberation Sans',Arial,sans-serif;font-weight:normal;font-size:30px" fill="#161616">HDM (Vit D +/+)</text>
<path d="M1328.5 309.8H1375.9" stroke="#161616" stroke-width="3.9"/>
<rect x="1343.98" y="301.29" width="17.03" height="17.03" fill="none" stroke="#161616" stroke-width="5.72"/>
<text transform="translate(1400.34 320.7) scale(1 1.04)" style="font-family:'Liberation Sans',Arial,sans-serif;font-weight:normal;font-size:30px" fill="#161616">Saline (Vit D -/-)</text>
<path d="M1330.45 359.3H1373.95" stroke="#161616" stroke-width="3.9" stroke-linecap="round" stroke-dasharray="3.6 8.9"/>
<rect x="1344.15" y="350.95" width="16.71" height="16.71" fill="#161616"/>
<text transform="translate(1400.34 370.2) scale(1 1.04)" style="font-family:'Liberation Sans',Arial,sans-serif;font-weight:normal;font-size:30px" fill="#161616">HDM (Vit D -/-)</text>
<path d="M1346.7 669.5H1392.8" stroke="#161616" stroke-width="3.9"/>
<circle cx="1369.8" cy="669.5" r="8.38" fill="none" stroke="#161616" stroke-width="5.72"/>
<text transform="translate(1417.84 680.4) scale(1 1.04)" style="font-family:'Liberation Sans',Arial,sans-serif;font-weight:normal;font-size:30px" fill="#161616">Saline (Vit D +/+)</text>
<path d="M1346.7 718.9H1392.8" stroke="#161616" stroke-width="3.9" stroke-dasharray="15.6 5.2"/>
<circle cx="1369.8" cy="718.9" r="8.71" fill="#161616"/>
<text transform="translate(1417.84 729.8) scale(1 1.04)" style="font-family:'Liberation Sans',Arial,sans-serif;font-weight:normal;font-size:30px" fill="#161616">HDM (Vit D +/+)</text>
<path d="M1346.7 768.2H1392.8" stroke="#161616" stroke-width="3.9"/>
<polygon points="1361.55,759.5 1378.05,759.5 1369.8,776.9" fill="none" stroke="#161616" stroke-width="5.46" stroke-linejoin="round"/>
<text transform="translate(1417.84 779.1) scale(1 1.04)" style="font-family:'Liberation Sans',Arial,sans-serif;font-weight:normal;font-size:30px" fill="#161616">Saline (Vit D -/+)</text>
<path d="M1348.65 817.6H1390.85" stroke="#161616" stroke-width="3.9" stroke-linecap="round" stroke-dasharray="3.6 8.9"/>
<polygon points="1361.05,808.85 1378.55,808.85 1369.8,826.35" fill="#161616"/>
<text transform="translate(1417.84 828.5) scale(1 1.04)" style="font-family:'Liberation Sans',Arial,sans-serif;font-weight:normal;font-size:30px" fill="#161616">HDM (Vit D -/+)</text>
<path d="M1333.7 1141.5H1380" stroke="#161616" stroke-width="3.9"/>
<circle cx="1357" cy="1141.5" r="8.38" fill="none" stroke="#161616" stroke-width="5.72"/>
<text transform="translate(1405.44 1152.4) scale(1 1.04)" style="font-family:'Liberation Sans',Arial,sans-serif;font-weight:normal;font-size:30px" fill="#161616">Saline (Vit D +/+)</text>
<path d="M1333.7 1191H1380" stroke="#161616" stroke-width="3.9" stroke-dasharray="15.6 5.2"/>
<circle cx="1357" cy="1191" r="8.71" fill="#161616"/>
<text transform="translate(1405.44 1201.9) scale(1 1.04)" style="font-family:'Liberation Sans',Arial,sans-serif;font-weight:normal;font-size:30px" fill="#161616">HDM (Vit D +/+)</text>
<path d="M1333.7 1240.4H1380" stroke="#161616" stroke-width="3.9"/>
<polygon points="1357,1229.84 1367.04,1240.4 1357,1250.96 1346.96,1240.4" fill="none" stroke="#161616" stroke-width="5.59" stroke-linejoin="round"/>
<text transform="translate(1405.44 1251.3) scale(1 1.04)" style="font-family:'Liberation Sans',Arial,sans-serif;font-weight:normal;font-size:30px" fill="#161616">Saline (Vit D+/-)</text>
<path d="M1335.65 1289.7H1378.05" stroke="#161616" stroke-width="3.9" stroke-linecap="round" stroke-dasharray="3.6 8.9"/>
<polygon points="1357,1279.17 1366.75,1289.7 1357,1300.23 1347.25,1289.7" fill="#161616"/>
<text transform="translate(1405.44 1300.6) scale(1 1.04)" style="font-family:'Liberation Sans',Arial,sans-serif;font-weight:normal;font-size:30px" fill="#161616">HDM (Vit D+/-)</text>
</svg>
</body></html>
